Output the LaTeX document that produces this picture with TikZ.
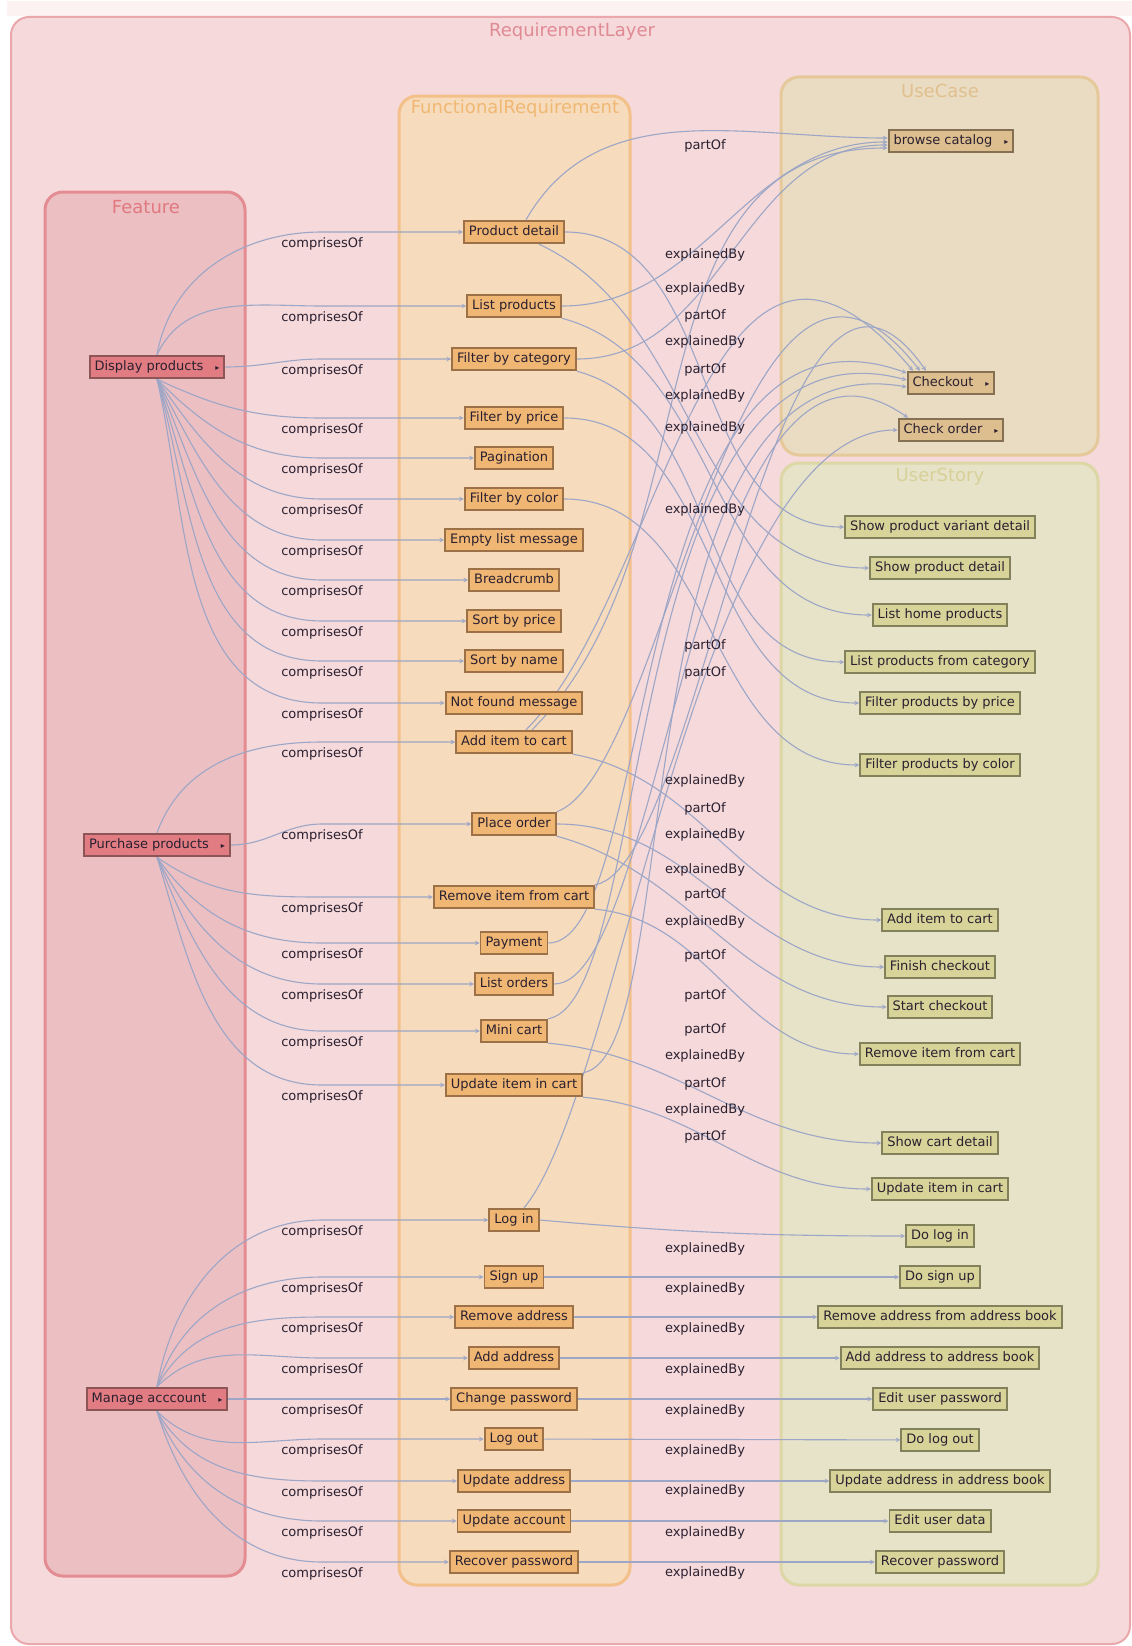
\documentclass[tikz,border=0pt]{standalone}
\usepackage{fontspec}
\setmainfont{DejaVu Sans}
\usetikzlibrary{arrows}

\definecolor{layerfill}{HTML}{F5D9DB}
\definecolor{layerline}{HTML}{EBA8AC}
\definecolor{layertitle}{HTML}{E08A94}
\definecolor{featfill}{HTML}{ECC0C3}
\definecolor{featline}{HTML}{E38D92}
\definecolor{feattitle}{HTML}{E07880}
\definecolor{frfill}{HTML}{F6DBBD}
\definecolor{frline}{HTML}{F4C08A}
\definecolor{frtitle}{HTML}{F0B872}
\definecolor{ucfill}{HTML}{EADCC2}
\definecolor{ucline}{HTML}{E6C99A}
\definecolor{uctitle}{HTML}{E0C08E}
\definecolor{usfill}{HTML}{E6E3C8}
\definecolor{usline}{HTML}{DCD7A4}
\definecolor{ustitle}{HTML}{D8D098}
\definecolor{fnodefill}{HTML}{E17C82}
\definecolor{fnodeline}{HTML}{8E5557}
\definecolor{frnodefill}{HTML}{F0B673}
\definecolor{frnodeline}{HTML}{9C7148}
\definecolor{ucnodefill}{HTML}{DDBE8F}
\definecolor{ucnodeline}{HTML}{857053}
\definecolor{usnodefill}{HTML}{D7D399}
\definecolor{usnodeline}{HTML}{83805C}
\definecolor{edgecol}{HTML}{9DA6C6}
\definecolor{inktext}{HTML}{2A2030}
\definecolor{topband}{HTML}{FCF2F2}

\newcommand{\nodefont}{\fontsize{13}{15}\selectfont}
\newcommand{\titlefont}{\fontsize{18}{20}\selectfont}
\newcommand{\more}{\hspace{12pt}{\fontsize{8}{8}\selectfont ▸}}

\pgfdeclarelayer{bg}
\pgfdeclarelayer{edges}
\pgfsetlayers{bg,edges,main}

\tikzstyle{box} = [rectangle, line width=1.9pt, text=inktext, font=\nodefont, inner xsep=5pt, inner ysep=5pt, text height=9.5pt, text depth=3pt]
\tikzstyle{feat} = [box, draw=fnodeline, fill=fnodefill]
\tikzstyle{freq} = [box, draw=frnodeline, fill=frnodefill]
\tikzstyle{ucase} = [box, draw=ucnodeline, fill=ucnodefill]
\tikzstyle{ustory} = [box, draw=usnodeline, fill=usnodefill]
\tikzstyle{area} = [rounded corners=18pt, line width=3pt]
\tikzstyle{title} = [font=\titlefont]
\tikzstyle{relline} = [draw=edgecol, line width=1.1pt, ->, >=stealth]
\tikzstyle{cmlbl} = [anchor=north, yshift=-4pt, inner sep=1pt, font=\nodefont, text=inktext]
\tikzstyle{midlbl} = [inner sep=1pt, font=\nodefont, text=inktext]

\begin{document}
\begin{tikzpicture}[x=1pt,y=1pt]
	\useasboundingbox (0,0) rectangle (1132,-1646);

	% containers
	\begin{pgfonlayer}{bg}
		\fill[white] (0,0) rectangle (1132,-1646);
		\fill[topband] (7,-1) rectangle (1132,-16);
		\draw[area, line width=2pt, draw=layerline, fill=layerfill] (11,-17) rectangle (1130,-1644);
		\draw[area, draw=featline, fill=featfill] (45,-192) rectangle (245,-1576);
		\draw[area, draw=frline, fill=frfill] (399,-96) rectangle (630,-1585);
		\draw[area, draw=ucline, fill=ucfill] (781,-77) rectangle (1098,-455);
		\draw[area, draw=usline, fill=usfill] (781,-463) rectangle (1098,-1585);
	\end{pgfonlayer}

	\node (tlayer) [title, text=layertitle] at (572,-32) {RequirementLayer};
	\node (tfeat) [title, text=feattitle] at (146,-207) {Feature};
	\node (tfr) [title, text=frtitle] at (515,-109) {FunctionalRequirement};
	\node (tuc) [title, text=uctitle] at (940,-91) {UseCase};
	\node (tus) [title, text=ustitle] at (940,-477) {UserStory};

	% features
	\node (dp) [feat] at (157,-367) {Display products\more};
	\node (pp) [feat] at (157,-845) {Purchase products\more};
	\node (ma) [feat] at (157,-1399) {Manage acccount\more};

	% functional requirements
	\node (pdetail) [freq] at (514,-232) {Product detail};
	\node (lprod) [freq] at (514,-306) {List products};
	\node (fcat) [freq] at (514,-359) {Filter by category};
	\node (fprice) [freq] at (514,-418) {Filter by price};
	\node (pagin) [freq] at (514,-458) {Pagination};
	\node (fcolor) [freq] at (514,-499) {Filter by color};
	\node (emptymsg) [freq] at (514,-540) {Empty list message};
	\node (bread) [freq] at (514,-580) {Breadcrumb};
	\node (sprice) [freq] at (514,-621) {Sort by price};
	\node (sname) [freq] at (514,-661) {Sort by name};
	\node (nfound) [freq] at (514,-703) {Not found message};
	\node (addcart) [freq] at (514,-742) {Add item to cart};
	\node (porder) [freq] at (514,-824) {Place order};
	\node (rmcart) [freq] at (514,-897) {Remove item from cart};
	\node (payment) [freq] at (514,-943) {Payment};
	\node (lorders) [freq] at (514,-984) {List orders};
	\node (minicart) [freq] at (514,-1031) {Mini cart};
	\node (upcart) [freq] at (514,-1085) {Update item in cart};
	\node (login) [freq] at (514,-1220) {Log in};
	\node (signup) [freq] at (514,-1277) {Sign up};
	\node (rmaddr) [freq] at (514,-1317) {Remove address};
	\node (addaddr) [freq] at (514,-1358) {Add address};
	\node (chpass) [freq] at (514,-1399) {Change password};
	\node (logout) [freq] at (514,-1439) {Log out};
	\node (upaddr) [freq] at (514,-1481) {Update address};
	\node (upacc) [freq] at (514,-1521) {Update account};
	\node (recpass) [freq] at (514,-1562) {Recover password};

	% use cases
	\node (browse) [ucase] at (951,-141) {browse catalog\more};
	\node (checkout) [ucase] at (951,-383) {Checkout\more};
	\node (chkorder) [ucase] at (951,-430) {Check order\more};

	% user stories
	\node (spvd) [ustory] at (940,-527) {Show product variant detail};
	\node (spd) [ustory] at (940,-568) {Show product detail};
	\node (lhp) [ustory] at (940,-615) {List home products};
	\node (lpfc) [ustory] at (940,-662) {List products from category};
	\node (fpbp) [ustory] at (940,-703) {Filter products by price};
	\node (fpbc) [ustory] at (940,-765) {Filter products by color};
	\node (usadd) [ustory] at (940,-920) {Add item to cart};
	\node (finchk) [ustory] at (940,-967) {Finish checkout};
	\node (startchk) [ustory] at (940,-1007) {Start checkout};
	\node (usrm) [ustory] at (940,-1054) {Remove item from cart};
	\node (showcart) [ustory] at (940,-1143) {Show cart detail};
	\node (usup) [ustory] at (940,-1189) {Update item in cart};
	\node (dologin) [ustory] at (940,-1236) {Do log in};
	\node (dosignup) [ustory] at (940,-1277) {Do sign up};
	\node (usrmaddr) [ustory] at (940,-1317) {Remove address from address book};
	\node (usaddaddr) [ustory] at (940,-1358) {Add address to address book};
	\node (editpass) [ustory] at (940,-1399) {Edit user password};
	\node (dologout) [ustory] at (940,-1440) {Do log out};
	\node (usupaddr) [ustory] at (940,-1481) {Update address in address book};
	\node (editdata) [ustory] at (940,-1521) {Edit user data};
	\node (usrecpass) [ustory] at (940,-1562) {Recover password};

	\coordinate (cx) at (322,0);

	\begin{pgfonlayer}{edges}
		% comprisesOf
		\foreach \t/\a/\o in {pdetail/north/80, lprod/north/65, fcat/east/0, fprice/south/-25, pagin/south/-45, fcolor/south/-55, emptymsg/south/-62, bread/south/-67, sprice/south/-71, sname/south/-74, nfound/south/-77}
			\draw[relline] (dp.\a) to[out=\o,in=180] (cx |- \t) node (c\t) [cmlbl] {comprisesOf} -- (\t);
		\foreach \t/\a/\o in {addcart/north/70, porder/east/0, rmcart/south/-35, payment/south/-55, lorders/south/-63, minicart/south/-68, upcart/south/-73}
			\draw[relline] (pp.\a) to[out=\o,in=180] (cx |- \t) node (c\t) [cmlbl] {comprisesOf} -- (\t);
		\foreach \t/\a/\o in {login/north/80, signup/north/72, rmaddr/north/62, addaddr/north/45, chpass/east/0, logout/south/-45, upaddr/south/-60, upacc/south/-68, recpass/south/-73}
			\draw[relline] (ma.\a) to[out=\o,in=180] (cx |- \t) node (c\t) [cmlbl] {comprisesOf} -- (\t);

		% partOf
		\draw[relline] ([xshift=12pt]pdetail.north) to[out=60,in=180] ([yshift=3pt]browse.west);
		\draw[relline] (lprod.east) to[out=0,in=180] ([yshift=-1pt]browse.west);
		\draw[relline] (fcat.east) to[out=0,in=180] ([yshift=-4pt]browse.west);
		\draw[relline] ([xshift=18pt]addcart.north) to[out=45,in=180] ([yshift=-7pt]browse.west);
		\draw[relline] ([xshift=12pt]addcart.north) to[out=45,in=130,out distance=200pt,in distance=320pt] ([xshift=-38pt]checkout.north);
		\draw[relline] (porder.north east) to[out=20,in=128,out distance=120pt,in distance=300pt] ([xshift=-31pt]checkout.north);
		\draw[relline] (rmcart.north east) to[out=10,in=125,out distance=110pt,in distance=270pt] ([xshift=-25pt]checkout.north);
		\draw[relline] (payment.east) to[out=0,in=160,out distance=110pt,in distance=300pt] ([yshift=10pt]checkout.west);
		\draw[relline] (minicart.north east) to[out=10,in=165,out distance=110pt,in distance=300pt] ([yshift=3pt]checkout.west);
		\draw[relline] (upcart.north east) to[out=10,in=170,out distance=110pt,in distance=300pt] ([yshift=-4pt]checkout.west);
		\draw[relline] (lorders.east) to[out=0,in=145,out distance=110pt,in distance=260pt] ([xshift=-43pt]chkorder.north);
		\draw[relline] ([xshift=10pt]login.north) to[out=50,in=180,out distance=150pt,in distance=200pt] (chkorder.west);

		% explainedBy
		\draw[relline] (pdetail.east) to[out=0,in=180] (spvd.west);
		\draw[relline] ([xshift=25pt]pdetail.south) to[out=-25,in=180] (spd.west);
		\draw[relline] (lprod.south east) to[out=-15,in=180] (lhp.west);
		\draw[relline] (fcat.south east) to[out=-15,in=180] (lpfc.west);
		\draw[relline] (fprice.east) to[out=0,in=180] (fpbp.west);
		\draw[relline] (fcolor.east) to[out=0,in=180] (fpbc.west);
		\draw[relline] (addcart.south east) to[out=-10,in=180] (usadd.west);
		\draw[relline] (porder.east) to[out=0,in=180] (finchk.west);
		\draw[relline] (porder.south east) to[out=-15,in=180] (startchk.west);
		\draw[relline] (rmcart.south east) to[out=-5,in=180] (usrm.west);
		\draw[relline] (minicart.south east) to[out=-5,in=180] (showcart.west);
		\draw[relline] (upcart.south east) to[out=-5,in=180] (usup.west);
		\draw[relline] (login.east) to[out=-5,in=180] (dologin.west);
		\foreach \a/\b in {signup/dosignup, rmaddr/usrmaddr, addaddr/usaddaddr, chpass/editpass, logout/dologout, upaddr/usupaddr, upacc/editdata, recpass/usrecpass}
			\draw[relline] (\a) -- (\b);
	\end{pgfonlayer}

	% labels in the middle channel
	\foreach \y/\t in {146/partOf, 255/explainedBy, 289/explainedBy, 316/partOf, 342/explainedBy, 370/partOf, 396/explainedBy, 428/explainedBy, 510/explainedBy, 646/partOf, 673/partOf, 781/explainedBy, 809/partOf, 835/explainedBy, 870/explainedBy, 895/partOf, 922/explainedBy, 956/partOf, 996/partOf, 1030/partOf, 1056/explainedBy, 1084/partOf, 1110/explainedBy, 1137/partOf, 1249/explainedBy, 1289/explainedBy, 1329/explainedBy, 1370/explainedBy, 1411/explainedBy, 1451/explainedBy, 1491/explainedBy, 1533/explainedBy, 1573/explainedBy}
		\node (m\y) [midlbl] at (705,-\y) {\t};
\end{tikzpicture}
\end{document}
